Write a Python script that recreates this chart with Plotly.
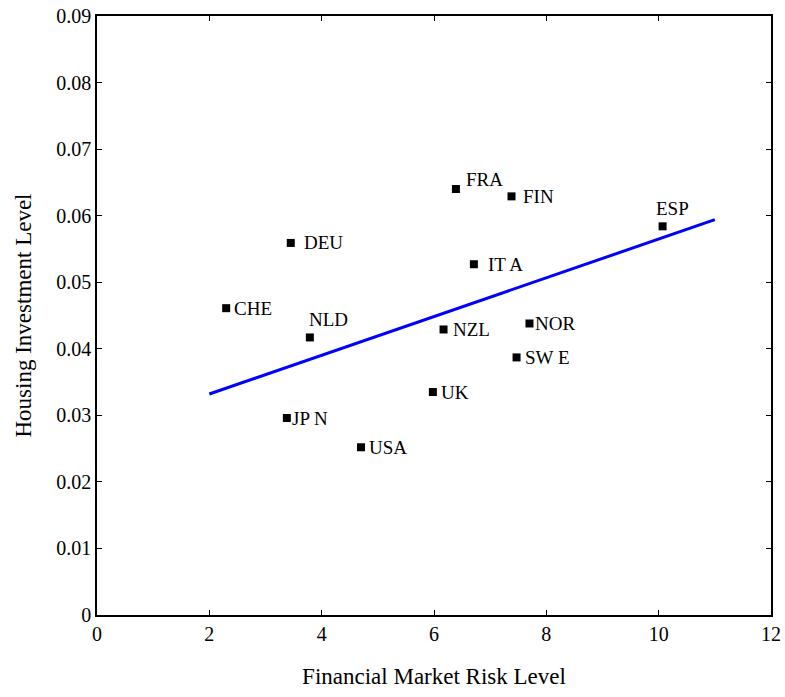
import plotly.graph_objects as go

countries = ["CHE", "DEU", "NLD", "JPN", "USA", "UK", "NZL", "FRA", "ITA", "FIN", "NOR", "SWE", "ESP"]
risk = [2.30, 3.45, 3.79, 3.38, 4.70, 5.98, 6.17, 6.39, 6.71, 7.38, 7.70, 7.47, 10.07]
housing = [0.0461, 0.0559, 0.0417, 0.0296, 0.0252, 0.0335, 0.0429, 0.0640, 0.0527, 0.0629, 0.0438, 0.0387, 0.0584]

fit_x = [2.0, 11.0]
fit_y = [0.0332, 0.0594]

# label offsets (pixels) relative to each marker
label_pos = {
    "CHE": (6, 0), "DEU": (11, 0), "NLD": (-3, 18),
    "JPN": (3, 0), "USA": (6, 0), "UK": (6, 0),
    "NZL": (7, 0), "FRA": (8, 10), "ITA": (12, 0),
    "FIN": (9, 0), "NOR": (4, 0), "SWE": (6, 0),
    "ESP": (-9, 18),
}
label_text = {"ITA": "IT A", "JPN": "JP N", "SWE": "SW E"}

font = "Liberation Serif, Times New Roman, serif"

fig = go.Figure()
fig.add_trace(go.Scatter(x=fit_x, y=fit_y, mode="lines",
                         line=dict(color="#0000ff", width=3), showlegend=False))
fig.add_trace(go.Scatter(x=risk, y=housing, mode="markers",
                         marker=dict(symbol="square", size=8, color="black"),
                         showlegend=False))

for c, xv, yv in zip(countries, risk, housing):
    dx, dy = label_pos[c]
    fig.add_annotation(x=xv, y=yv, text=label_text.get(c, c), showarrow=False,
                       xanchor="left", yanchor="middle", xshift=dx, yshift=dy,
                       font=dict(family=font, size=19, color="black"))

fig.update_xaxes(range=[0, 12], dtick=2, ticks="inside", ticklen=5, tickcolor="black",
                 showline=True, linecolor="black", linewidth=1.5, mirror="ticks",
                 showgrid=False, zeroline=False, automargin=False,
                 title=dict(text="Financial Market Risk Level", standoff=24,
                            font=dict(family=font, size=23, color="black")),
                 tickfont=dict(family=font, size=20, color="black"))
fig.update_yaxes(range=[0, 0.09], dtick=0.01, ticks="inside", ticklen=5, tickcolor="black",
                 showline=True, linecolor="black", linewidth=1.5, mirror="ticks",
                 showgrid=False, zeroline=False, automargin=False,
                 title=dict(text="Housing Investment Level", standoff=18,
                            font=dict(family=font, size=23, color="black")),
                 tickfont=dict(family=font, size=20, color="black"))

fig.update_layout(width=785, height=697, margin=dict(l=97, r=14, t=16, b=82),
                  plot_bgcolor="white", paper_bgcolor="white")

fig.write_html("out.html", config={"displayModeBar": False},
               post_script="document.body.style.margin='0';")
